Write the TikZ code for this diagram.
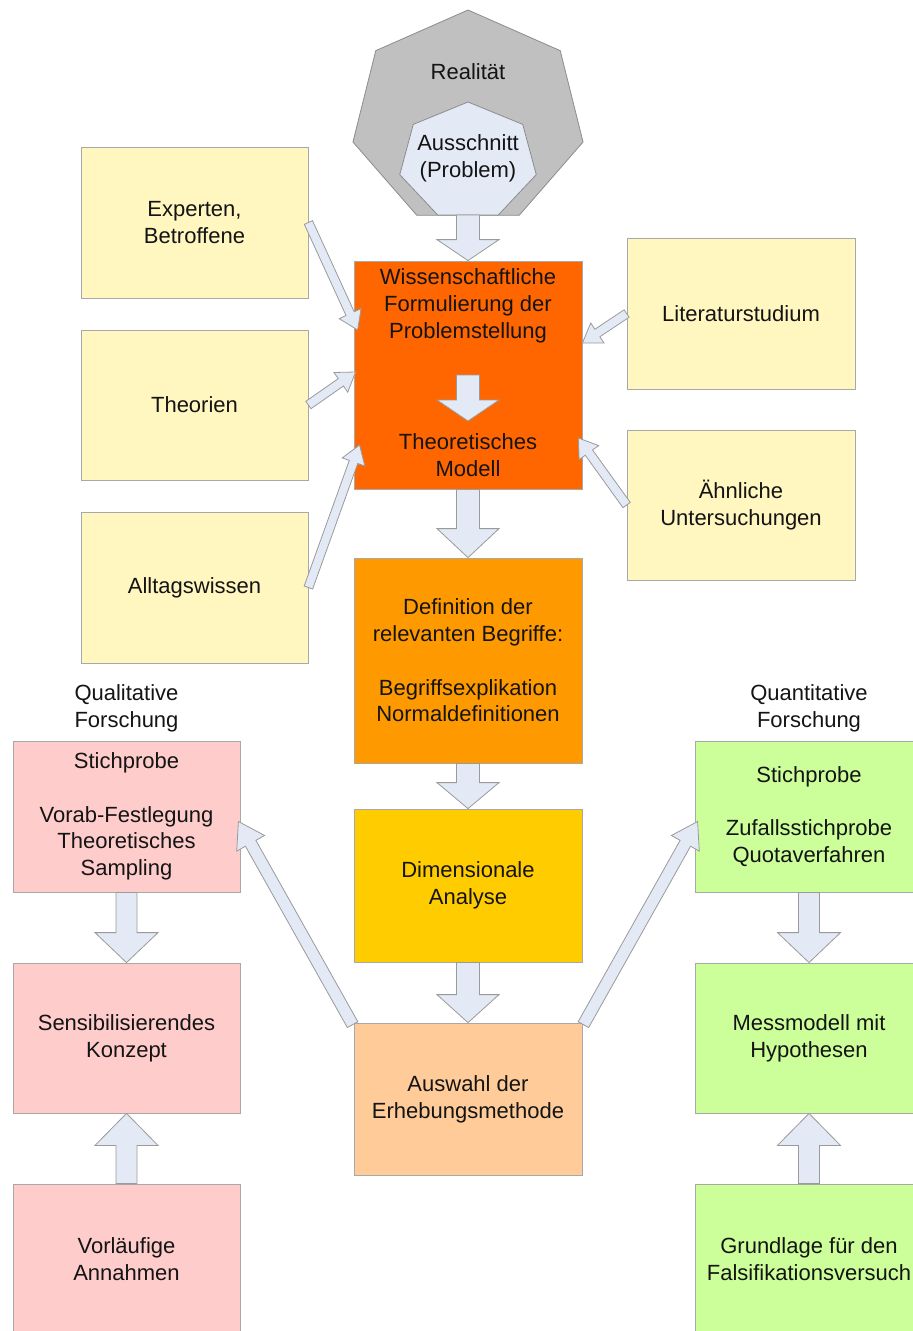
\documentclass[tikz,border=0pt]{standalone}
\usepackage{fontspec}
\setmainfont{Liberation Sans}
\usetikzlibrary{calc}

\definecolor{paleyellow}{HTML}{FFF6C0}
\definecolor{orangeA}{HTML}{FF6600}
\definecolor{orangeB}{HTML}{FF9900}
\definecolor{orangeC}{HTML}{FFCC00}
\definecolor{orangeD}{HTML}{FFCC99}
\definecolor{palepink}{HTML}{FFCCCC}
\definecolor{palegreen}{HTML}{CCFF99}
\definecolor{arrowfill}{HTML}{E3EAF6}
\definecolor{arrowline}{HTML}{9A9A9A}
\definecolor{boxline}{HTML}{A8A8A8}
\definecolor{polyfill}{HTML}{C0C0C0}
\definecolor{polyline}{HTML}{8C8C8C}
\definecolor{inkcol}{HTML}{141414}

\tikzset{
  box/.style={draw=boxline, line width=0.8pt, inner sep=0pt, align=center, text=inkcol},
  label text/.style={align=center, text=inkcol, inner sep=0pt},
  blockarrow/.style={fill=arrowfill, draw=arrowline, line width=0.8pt, line join=miter},
}

% block arrow: [style] {tail} {tip} {shaft half width} {head half width} {head length}
\newcommand\blockarrow[6][]{%
  \path (#2) coordinate (ba-s) (#3) coordinate (ba-t);
  \path ($(ba-t)!#6!(ba-s)$) coordinate (ba-h);
  \draw[blockarrow,#1]
    ($(ba-s)!#4!90:(ba-t)$) -- ($(ba-h)!#4!90:(ba-t)$) -- ($(ba-h)!#5!90:(ba-t)$)
    -- (ba-t)
    -- ($(ba-h)!#5!-90:(ba-t)$) -- ($(ba-h)!#4!-90:(ba-t)$) -- ($(ba-s)!#4!-90:(ba-t)$) -- cycle;
}

\begin{document}
\begin{tikzpicture}[x=1pt, y=-1pt, font=\fontsize{22}{26.7}\selectfont]
\useasboundingbox (0,0) rectangle (913,1331);
\clip (0,0) rectangle (913,1331);

% reality and the selected problem
\begin{scope}[shift={(468,118)}]
  \draw[fill=polyfill, draw=polyline, line width=0.8pt]
    (-90:118 and 108) \foreach \k in {1,...,6}{ -- (-90+\k*51.428571:118 and 108)} -- cycle;
\end{scope}
\begin{scope}[shift={(468,161.4)}]
  \draw[fill=arrowfill, draw=polyline, line width=0.8pt]
    (-90:70 and 59.4) \foreach \k in {1,...,6}{ -- (-90+\k*51.428571:70 and 59.4)} -- cycle;
\end{scope}
\node[label text] (real) at (468,72) {Realität};
\node[label text] (auss) at (468,158) {Ausschnitt\\(Problem)};
\coordinate (realb) at (468,215);

% sources on the left and right
\node[box, fill=paleyellow, minimum width=227pt, minimum height=151pt] (exp)  at (194.5,222.5) {Experten,\\Betroffene};
\node[box, fill=paleyellow, minimum width=227pt, minimum height=150pt] (theo) at (194.5,405)   {Theorien};
\node[box, fill=paleyellow, minimum width=227pt, minimum height=151pt] (allt) at (194.5,587.5) {Alltagswissen};
\node[box, fill=paleyellow, minimum width=228pt, minimum height=151pt] (lit)  at (741,313.5)   {Literaturstudium};
\node[box, fill=paleyellow, minimum width=228pt, minimum height=150pt] (aehn) at (741,505)     {Ähnliche\\Untersuchungen};

% central column
\node[box, fill=orangeA, minimum width=228pt, minimum height=228pt] (prob) at (468,375) {};
\node[label text] (probtxt) at (468,306) {Wissenschaftliche\\Formulierung der\\Problemstellung};
\node[label text] (modtxt)  at (468,455) {Theoretisches\\Modell};
\coordinate (pa) at (468,375);
\coordinate (pb) at (468,421);
\node[box, fill=orangeB, minimum width=228pt, minimum height=205pt] (defn) at (468,660.5)
  {Definition der\\relevanten Begriffe:\\[26.7pt]Begriffsexplikation\\Normaldefinitionen};
\node[box, fill=orangeC, minimum width=228pt, minimum height=153pt] (dim)  at (468,885.5) {Dimensionale\\Analyse};
\node[box, fill=orangeD, minimum width=228pt, minimum height=152pt] (ausw) at (468,1099)  {Auswahl der\\Erhebungsmethode};

% qualitative branch
\node[label text] (qual) at (126.5,708) {Qualitative\\Forschung};
\node[box, fill=palepink, minimum width=227pt, minimum height=151pt] (qs)   at (126.5,816.5)
  {Stichprobe\\[26.7pt]Vorab-Festlegung\\Theoretisches\\Sampling};
\node[box, fill=palepink, minimum width=227pt, minimum height=150pt] (sens) at (126.5,1038) {Sensibilisierendes\\Konzept};
\node[box, fill=palepink, minimum width=227pt, minimum height=150pt] (vorl) at (126.5,1259) {Vorläufige\\Annahmen};

% quantitative branch
\node[label text] (quant) at (809,708) {Quantitative\\Forschung};
\node[box, fill=palegreen, minimum width=228pt, minimum height=151pt] (ns)    at (809,816.5)
  {Stichprobe\\[26.7pt]Zufallsstichprobe\\Quotaverfahren};
\node[box, fill=palegreen, minimum width=228pt, minimum height=150pt] (mess)  at (809,1038) {Messmodell mit\\Hypothesen};
\node[box, fill=palegreen, minimum width=228pt, minimum height=150pt] (grund) at (809,1259) {Grundlage für den\\Falsifikationsversuch};

% broad arrows of the central column
\blockarrow{realb}{prob.north}{11.5pt}{31pt}{21pt}
\blockarrow{pa}{pb}{11.5pt}{31pt}{21pt}
\blockarrow{prob.south}{defn.north}{11.5pt}{31pt}{29pt}
\blockarrow{defn.south}{dim.north}{11.5pt}{31pt}{26pt}
\blockarrow{dim.south}{ausw.north}{11.5pt}{31pt}{28pt}

% broad arrows of the two branches
\blockarrow{qs.south}{sens.north}{10.5pt}{31.5pt}{30pt}
\blockarrow{vorl.north}{sens.south}{10.5pt}{31.5pt}{32pt}
\blockarrow{ns.south}{mess.north}{10.5pt}{31.5pt}{30pt}
\blockarrow{grund.north}{mess.south}{10.5pt}{31.5pt}{32pt}

% thin arrows from the sources
\blockarrow{exp.east}{$(prob.west)+(4,-45)$}{4.5pt}{12pt}{18pt}
\blockarrow{theo.east}{$(prob.west)+(2,-3)$}{4.5pt}{12pt}{18pt}
\blockarrow{allt.east}{$(prob.west)+(6,70)$}{4.5pt}{12pt}{18pt}
\blockarrow{lit.west}{$(prob.east)+(0,-32)$}{4.5pt}{12pt}{18pt}
\blockarrow{aehn.west}{$(prob.east)+(-4,63)$}{4.5pt}{12pt}{18pt}

% from the survey method to both sampling boxes
\blockarrow{$(ausw.north west)+(-1,2)$}{$(qs.east)+(-2,5)$}{6pt}{16pt}{25pt}
\blockarrow{$(ausw.north east)+(1,2)$}{$(ns.west)+(3,5)$}{6pt}{16pt}{25pt}
\end{tikzpicture}
\end{document}
